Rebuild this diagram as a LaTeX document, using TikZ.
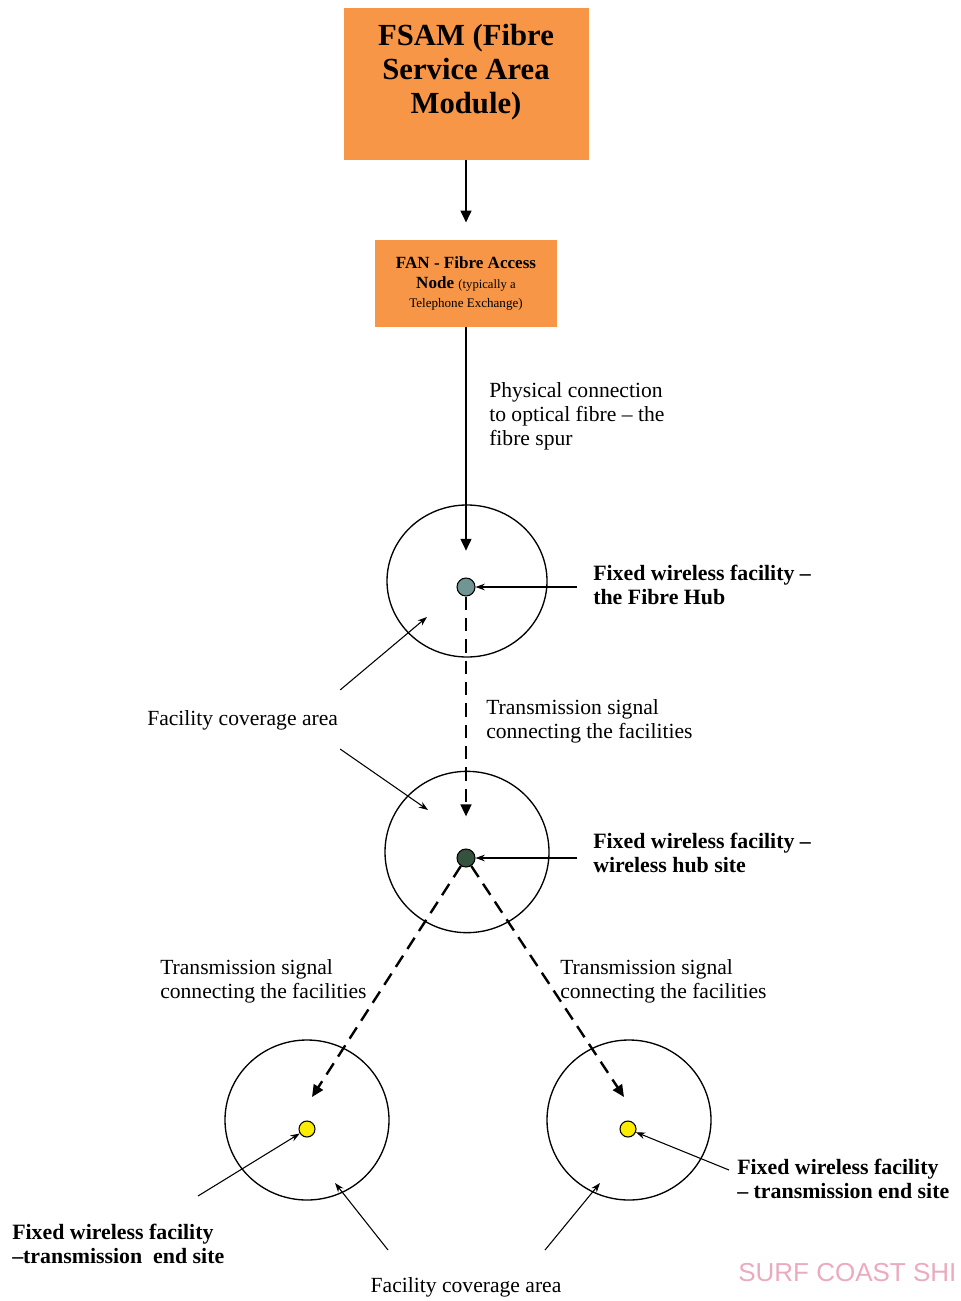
\documentclass[tikz,border=0pt]{standalone}
\usepackage{fontspec}
\setmainfont{Liberation Serif}
\newfontfamily\stampfont{Liberation Sans}
\usetikzlibrary{arrows.meta,positioning,shapes.geometric}
\definecolor{fsamorange}{RGB}{247,150,70}
\definecolor{fibrehub}{RGB}{112,150,148}
\definecolor{wirelesshub}{RGB}{52,82,62}
\definecolor{endsite}{RGB}{252,236,0}
\definecolor{stamp}{RGB}{236,170,190}

\begin{document}
\begin{tikzpicture}[x=0.75pt, y=-0.75pt,
        box/.style={fill=fsamorange, align=center, font=\bfseries, inner sep=2pt},
        area/.style={draw, ellipse, line width=1pt, inner sep=0pt},
        site/.style={draw, circle, line width=0.8pt, inner sep=0pt},
        note/.style={align=left, anchor=north west, inner sep=0pt, font=\fontsize{16.2}{18}\selectfont},
        bold note/.style={note, font=\fontsize{16.4}{18}\selectfont\bfseries},
        feed/.style={line width=1.8pt, -{Triangle[length=9pt,width=8pt]}},
        signal/.style={feed, dash pattern=on 10pt off 6pt},
        pointer/.style={line width=0.8pt, -{Stealth[length=7pt,width=5pt]}}
    ]
        \useasboundingbox (0,0) rectangle (960,1301);

        \node[box, minimum width=183.75pt, minimum height=114pt, font=\fontsize{23}{25.5}\selectfont\bfseries] (fsam) at (466,84) {FSAM (Fibre\\Service Area\\Module)\\[-3pt]\mbox{}};
        \node[box, minimum width=136.5pt, minimum height=65pt, font=\fontsize{12.8}{14.5}\selectfont\bfseries] (fan) at (466,283.5) {FAN - Fibre Access\\Node {\fontsize{9.5}{12}\selectfont\mdseries (typically a}\\{\fontsize{9.8}{12.5}\selectfont\mdseries Telephone Exchange)}};

        \node[area, minimum width=120pt, minimum height=114pt] (fibrearea) at (467,581) {};
        \node[area, minimum width=123pt, minimum height=121pt] (hubarea) at (467,852) {};
        \node[area, minimum width=123pt, minimum height=120pt] (endareal) at (307,1120) {};
        \node[area, minimum width=123pt, minimum height=120pt] (endarear) at (629,1120) {};

        \node[site, fill=fibrehub, minimum size=13.5pt] (fibredot) at (466,587) {};
        \node[site, fill=wirelesshub, minimum size=13.5pt] (hubdot) at (466,858) {};
        \node[site, fill=endsite, minimum size=12pt] (enddotl) at (307,1129) {};
        \node[site, fill=endsite, minimum size=12pt] (enddotr) at (628,1129) {};

        \node[note] (spur) at (489,382) {Physical connection\\to optical fibre -- the\\fibre spur};
        \node[bold note] (fibrehubtext) at (593,565) {Fixed wireless facility --\\the Fibre Hub};
        \node[note] (signalmid) at (486,699) {Transmission signal\\connecting the facilities};
        \node[note, anchor=west] (coverl) at (147,720) {Facility coverage area};
        \node[bold note] (hubtext) at (593,833) {Fixed wireless facility --\\wireless hub site};
        \node[note] (signall) at (160,959) {Transmission signal\\connecting the facilities};
        \node[note] (signalr) at (560,959) {Transmission signal\\connecting the facilities};
        \node[bold note] (endr) at (737,1159) {Fixed wireless facility\\-- transmission end site};
        \node[bold note] (endl) at (12,1224) {Fixed wireless facility\\--transmission\ \ end site};
        \node[note, anchor=center] (coverb) at (466,1287) {Facility coverage area};
        \node[anchor=west, inner sep=0pt, text=stamp, font=\stampfont\fontsize{19.5}{22}\selectfont] (stampmark) at (738,1273) {SURF COAST SHI};

        \coordinate (tipl) at (312,1097);
        \coordinate (tipr) at (624,1097);
        \coordinate (endlfoot) at (198,1196);
        \coordinate (endrfoot) at (729,1170);
        \coordinate (coverbl) at (388,1250);
        \coordinate (coverbr) at (545,1250);

        \draw[feed, shorten >=13pt] (fsam) -- (fan);
        \draw[feed, shorten >=20pt] (fan) -- (fibredot);
        \draw[signal, shorten >=24pt] (fibredot) -- (hubdot);
        \draw[signal] (hubdot) -- (tipl);
        \draw[signal] (hubdot) -- (tipr);

        \draw[pointer] ([xshift=-12pt]fibrehubtext.west |- fibredot) -- (fibredot);
        \draw[pointer] ([xshift=-12pt]hubtext.west |- hubdot) -- (hubdot);
        \draw[pointer] ([shift={(2,-20)}]coverl.north east) -- ([shift={(-40,36)}]fibrearea.center);
        \draw[pointer] ([shift={(2,19)}]coverl.south east) -- ([shift={(-39,-42)}]hubarea.center);
        \draw[pointer] (endlfoot) -- (enddotl);
        \draw[pointer] (endrfoot) -- (enddotr);
        \draw[pointer] (coverbl) -- ([shift={(28,63)}]endareal.center);
        \draw[pointer] (coverbr) -- ([shift={(-29,63)}]endarear.center);
    \end{tikzpicture}
\end{document}
